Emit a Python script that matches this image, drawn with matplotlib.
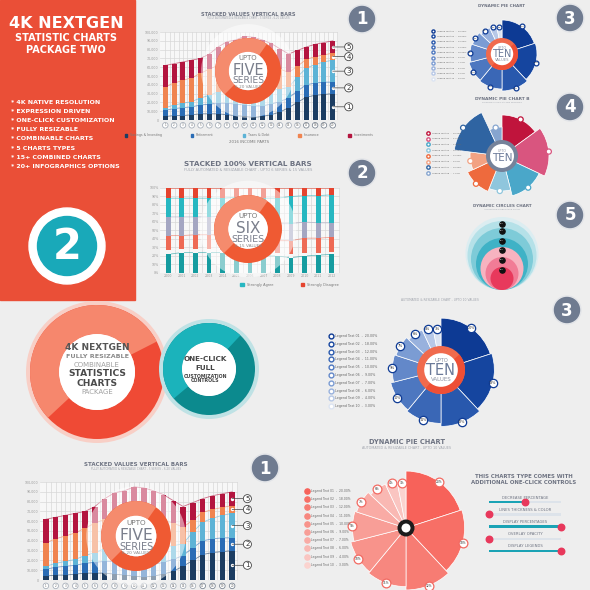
import matplotlib.pyplot as plt
import numpy as np
from matplotlib.patches import Circle, Wedge, Rectangle

# ---------------- data ----------------
income_names = ['Savings & Investing', 'Retirement', 'Taxes & Debt', 'Insurance', 'Investments']
inc_navy = [4, 5, 5, 6, 7, 7, 7, 6, 5, 4, 3, 4, 6, 9, 14, 20, 26, 28, 29, 30]
inc_blue = [7, 8, 9, 9, 10, 11, 12, 13, 13, 13, 13, 12, 12, 12, 11, 13, 14, 14, 14, 13]
inc_sky = [3, 4, 5, 6, 8, 10, 13, 15, 17, 18, 18, 17, 16, 14, 12, 16, 19, 21, 23, 25]
inc_orange = [24, 25, 26, 27, 28, 30, 30, 30, 30, 31, 31, 30, 27, 23, 17, 12, 10, 9, 8, 8]
inc_crimson = [24, 22, 21, 20, 17, 17, 21, 25, 26, 29, 29, 28, 26, 23, 21, 18, 14, 14, 14, 14]
income_colors = ['#1c3d62', '#2a6cb5', '#5db3d6', '#f08450', '#b3153f']

agree_years = [str(y) for y in range(2000, 2013)]
agree_teal = [22, 24, 24, 24, 24, 22, 20, 20, 20, 18, 20, 21, 22]
agree_pale = [5, 4, 4, 4, 3, 3, 3, 4, 4, 4, 4, 3, 3]
agree_salmon = [17, 16, 17, 17, 18, 18, 17, 16, 14, 16, 17, 17, 17]
agree_lavender = [22, 22, 21, 21, 22, 24, 24, 22, 20, 20, 19, 18, 17]
agree_cyan = [22, 22, 22, 22, 21, 22, 24, 26, 30, 32, 31, 32, 33]
agree_red = [12, 12, 12, 12, 12, 11, 12, 12, 12, 10, 9, 9, 8]
agree_colors = ['#169ca0', '#f6f6f6', '#ee6a55', '#a4a6c2', '#27b7c1', '#e5442f']

ten_values = [20, 18, 12, 11, 10, 9, 7, 6, 4, 3]
ten_depth = [34, 35, 37, 35, 34, 32, 31, 29, 28, 27]
blue_colors = ['#0d3a94', '#15459f', '#2858ad', '#3a67b6', '#4d77c0', '#6388c9',
               '#7b9cd3', '#98b1dd', '#b7c8e7', '#dce4f2']
salmon_colors = ['#f7625a', '#f76f66', '#f77c73', '#f7877f', '#f8938b', '#f89e97',
                 '#f9aba5', '#f9b8b3', '#fac5c1', '#fbd3cf']

b_values = [15, 17, 14, 10, 12, 9, 16, 7]
b_depth = [41, 47, 41, 35, 38, 32, 48, 29]
b_colors = ['#c0143c', '#d9557f', '#4aa7c9', '#8fc6dd', '#ee6a3d', '#f2a283', '#2f64a2', '#86a5cf']

circle_sizes = [36.5, 34.5, 31, 26, 21.5, 16.5, 11.5]
circle_colors = ['#dcedf1', '#b5e1e8', '#7ecbd8', '#3fb2c6', '#f7b3c0', '#f17c96', '#e8395c']

slider_names = ['DECREASE PERCENTAGE', 'LINES THICKNESS & COLOR', 'DISPLAY PERCENTAGES',
                'OVERLAY OPACITY', 'DISPLAY LEGENDS']
slider_levels = [0.5, 0, 1, 0, 1]

bullets = ['4K NATIVE RESOLUTION', 'EXPRESSION DRIVEN', 'ONE-CLICK CUSTOMIZATION',
           'FULLY RESIZABLE', 'COMBINABLE CHARTS', '5 CHARTS TYPES',
           '15+ COMBINED CHARTS', '20+ INFOGRAPHICS OPTIONS']

# ---------------- layout helpers ----------------
W = 590
GRAY = '#6e7382'
BADGE = '#6f7b90'
fig = plt.figure(figsize=(5.9, 5.9), dpi=100)
fig.patch.set_facecolor('#eeeeee')


def box(x, y, w, h, **kw):
    return fig.add_axes([x / W, 1 - (y + h) / W, w / W, h / W], **kw)


bg = box(0, 0, W, W)
bg.set_xlim(0, W); bg.set_ylim(W, 0); bg.axis('off'); bg.set_zorder(0)

ov = box(0, 0, W, W)
ov.set_xlim(0, W); ov.set_ylim(W, 0); ov.axis('off'); ov.set_zorder(5)
ov.patch.set_alpha(0)

# ---------------- red panel ----------------
bg.add_patch(Rectangle((0, 0), 135, 300, color='#ea4f37'))
bg.text(66, 24, '4K NEXTGEN', color='white', fontsize=11.5, fontweight='bold', ha='center', va='center')
bg.text(66, 38, 'STATISTIC CHARTS', color='white', fontsize=7, fontweight='bold', ha='center', va='center')
bg.text(66, 50, 'PACKAGE TWO', color='white', fontsize=7, fontweight='bold', ha='center', va='center')
for i, b in enumerate(bullets):
    bg.text(11, 102 + 9.2 * i, '* ' + b, color='white', fontsize=4.5, fontweight='bold', va='center')
bg.add_patch(Circle((67, 246), 38, color='white'))
bg.add_patch(Circle((67, 246), 29.5, color='#19a9b9'))
bg.text(67, 247, '2', color='white', fontsize=30, fontweight='bold', ha='center', va='center')


# ---------------- stacked bar charts ----------------
def grid_style(ax, n):
    ax.set_facecolor('#f7f7f7')
    ax.set_xlim(-0.6, n - 0.4)
    ax.set_ylim(0, 100)
    ax.set_xticks(np.arange(n))
    ax.set_xticks(np.arange(n) + 0.5, minor=True)
    ax.set_yticks(np.arange(0, 101, 10))
    ax.grid(True, which='both', color='#d8d8d8', lw=0.5)
    ax.set_axisbelow(True)
    ax.tick_params(which='both', length=0, labelsize=2.3, colors='#9a9a9a', pad=1)
    for s in ax.spines.values():
        s.set_visible(False)


def stacked(ax, series, colors, width, lines=True):
    x = np.arange(len(series[0]))
    bottom = np.zeros(len(x))
    for vals, c in zip(series, colors):
        ax.bar(x, vals, width, bottom=bottom, color=c, zorder=2)
        bottom = bottom + np.array(vals)
        if lines:
            ax.plot(x, bottom, color=c, lw=0.6, alpha=0.6, zorder=1)
    return x


def income_chart(x0, y0, w, h, label_dx):
    ax = box(x0, y0, w, h)
    series = [inc_navy, inc_blue, inc_sky, inc_orange, inc_crimson]
    grid_style(ax, len(inc_navy))
    ax.set_yticklabels(['{:,}'.format(v * 1000) for v in range(0, 101, 10)])
    ax.set_xticklabels([])
    x = stacked(ax, series, income_colors, 0.55)
    n = len(x)
    ax.scatter(x, np.full(n, -6), s=16, facecolor='white',
               edgecolor=['#a8b0ba'] * (n - 4) + ['#7d8794'] * 4, lw=0.6, clip_on=False, zorder=3)
    for i in x:
        ax.text(i, -6, str(i + 1), fontsize=2, ha='center', va='center', color='#666', clip_on=False)
    bottom = 0
    for k, vals in enumerate(series):
        mid = bottom + vals[-1] / 2
        bottom += vals[-1]
        ax.scatter([n - 1], [mid], s=2, color='white', zorder=3)
        ax.annotate(str(k + 1), xy=(n - 1, mid), xytext=(label_dx, 0), textcoords='offset points',
                    fontsize=5, ha='center', va='center', color='#333',
                    bbox=dict(boxstyle='circle,pad=0.15', fc='white', ec='#444', lw=0.6),
                    arrowprops=dict(arrowstyle='-', color='#444', lw=0.5, shrinkA=0, shrinkB=0),
                    annotation_clip=False)
    return ax


ax1 = income_chart(160, 32, 178, 88, 11.5)
ax1.legend([plt.Rectangle((0, 0), 1, 1, color=c) for c in income_colors], income_names,
           loc='upper center', bbox_to_anchor=(0.5, -0.12), ncol=5, fontsize=2.3, frameon=False,
           handlelength=0.9, handleheight=0.9, columnspacing=9, labelcolor='#777')
ov.text(249, 142, '2016 INCOME PARTS', fontsize=2.8, color='#777', ha='center', va='center')

ax3 = income_chart(40, 482, 198, 98, 11)

ax2 = box(160, 188, 180, 85)
grid_style(ax2, len(agree_teal))
ax2.set_yticklabels(['{}%'.format(v) for v in range(0, 101, 10)])
ax2.set_xticklabels(agree_years)
stacked(ax2, [agree_teal, agree_pale, agree_salmon, agree_lavender, agree_cyan, agree_red],
        agree_colors, 0.35)
ax2.legend([plt.Rectangle((0, 0), 1, 1, color=agree_colors[4]), plt.Rectangle((0, 0), 1, 1, color=agree_colors[5])],
           ['Strongly Agree', 'Strongly Disagree'], loc='upper center', bbox_to_anchor=(0.72, -0.08),
           ncol=2, fontsize=2.5, frameon=False, handlelength=1.0, handleheight=1.0, columnspacing=8,
           labelcolor='#777')


# ---------------- titles & badges ----------------
def title(x, y, t, fs, sub=None):
    ov.text(x, y, t, fontsize=fs, fontweight='bold', color=GRAY, ha='center', va='center')
    if sub:
        ov.text(x, y + fs * 1.15, sub, fontsize=fs * 0.5, color='#a0a4ad', ha='center', va='center')


def badge(x, y, t):
    ov.add_patch(Circle((x, y), 14, color='#e2e4e8'))
    ov.add_patch(Circle((x, y), 12.5, color=BADGE))
    ov.text(x, y + 0.5, t, fontsize=12, fontweight='bold', color='white', ha='center', va='center')


title(248, 14, 'STACKED VALUES VERTICAL BARS', 3.6, 'FULLY AUTOMATED & RESIZABLE CHART - 5 SERIES - 6-20 VALUES')
title(248, 164, 'STACKED 100% VERTICAL BARS', 5.2, 'FULLY AUTOMATED & RESIZABLE CHART - UPTO 6 SERIES & 15 VALUES')
title(502, 6, 'DYNAMIC PIE CHART', 3.0)
title(502, 99, 'DYNAMIC PIE CHART B', 3.2, 'SHIFTING SLICES VALUES SETTINGS')
title(502, 206, 'DYNAMIC CIRCLES CHART', 3.0, 'AUTOMATED & RESIZABLE CHART')
ov.text(440, 300, 'AUTOMATED & RESIZABLE CHART - UPTO 10 VALUES', fontsize=2.2, color='#a0a4ad', ha='center', va='center')
title(136, 464, 'STACKED VALUES VERTICAL BARS', 4.0, 'FULLY AUTOMATED & RESIZABLE CHART - 5 SERIES - 6-20 VALUES')
title(407, 442, 'DYNAMIC PIE CHART', 4.8, 'AUTOMATED & RESIZABLE CHART - UPTO 10 VALUES')

badge(362, 19, '1')
badge(362, 173, '2')
badge(570, 18, '3')
badge(570, 107, '4')
badge(570, 215, '5')
badge(567, 310, '3')
badge(265, 468, '1')


# ---------------- donut overlays ----------------
def ring(cx, cy, r, w, light, dark, a_light=(-225, -55), halo=None, halo_alpha=1.0):
    if halo:
        ov.add_patch(Circle((cx, cy), halo[0], color=halo[1], alpha=halo_alpha, lw=0))
    ov.add_patch(Wedge((cx, cy), r, -360, 0, width=w, color=dark, lw=0))
    ov.add_patch(Wedge((cx, cy), r, a_light[0], a_light[1], width=w, color=light, lw=0))
    ov.add_patch(Circle((cx, cy), r - w, color='white', lw=0))


def series_badge(cx, cy, r, big, small):
    ring(cx, cy, r, r * 0.42, '#f58b6d', '#ef5a33', halo=(r * 1.42, 'white'), halo_alpha=0.5)
    ov.text(cx, cy - r * 0.38, 'UPTO', fontsize=r * 0.15, color='#777', ha='center', va='center')
    ov.text(cx, cy - r * 0.02, big, fontsize=r * 0.32, color='#7a7f8c', ha='center', va='center')
    ov.text(cx, cy + r * 0.3, 'SERIES', fontsize=r * 0.2, color='#7a7f8c', ha='center', va='center')
    ov.text(cx, cy + r * 0.5, small, fontsize=r * 0.09, color='#888', ha='center', va='center')


series_badge(248, 71, 33, 'FIVE', '6-20 VALUES')
series_badge(248, 229, 34, 'SIX', '6-15 VALUES')
series_badge(136, 536, 35, 'FIVE', '6-20 VALUES')

# big feature donuts
ring(97, 372, 67, 29, '#f6876d', '#ef4a35', a_light=(-223, -27), halo=(71, '#f8cfc6'))
ov.text(97, 348, '4K NEXTGEN', fontsize=6.5, color='#555', ha='center', va='center', fontweight='bold')
ov.text(97, 357, 'FULLY RESIZABLE', fontsize=4.6, color='#8a8a8a', ha='center', va='center', fontweight='bold')
ov.text(97, 365, 'COMBINABLE', fontsize=5.0, color='#a0a0a0', ha='center', va='center')
ov.text(97, 373, 'STATISTICS', fontsize=6.6, color='#4a4a4a', ha='center', va='center', fontweight='bold')
ov.text(97, 383, 'CHARTS', fontsize=6.6, color='#4a4a4a', ha='center', va='center', fontweight='bold')
ov.text(97, 392, 'PACKAGE', fontsize=5.0, color='#a0a0a0', ha='center', va='center')

ring(209, 369, 46, 19, '#1bb3bb', '#0c8a8e', a_light=(-220, -47), halo=(50, '#bfe2e5'))
ov.text(205, 359, 'ONE-CLICK', fontsize=5.2, color='#444', ha='center', va='center', fontweight='bold')
ov.text(205, 368, 'FULL', fontsize=5.2, color='#444', ha='center', va='center', fontweight='bold')
ov.text(205, 376, 'CUSTOMIZATION', fontsize=3.4, color='#444', ha='center', va='center', fontweight='bold')
ov.text(205, 381, 'CONTROLS', fontsize=3.4, color='#444', ha='center', va='center', fontweight='bold')


# ---------------- rose pies ----------------
def rose(cx, cy, R, rmax, values, depth, colors, label_ec, label_fs, label_s, pct=True):
    ax = box(cx - R, cy - R, 2 * R, 2 * R, projection='polar')
    ax.set_theta_zero_location('N')
    ax.set_theta_direction(-1)
    ax.set_ylim(0, rmax)
    ax.set_axis_off()
    v = np.array(values, dtype=float)
    widths = 2 * np.pi * v / v.sum()
    theta = np.cumsum(widths) - widths / 2
    ax.bar(theta, depth, width=widths, color=colors, edgecolor='white', lw=0.5, align='center')
    ax.scatter(theta, depth, s=label_s, facecolor='white', edgecolor=label_ec, lw=0.9, zorder=3, clip_on=False)
    for t, d, val in zip(theta, depth, values):
        ax.text(t, d, '{}%'.format(val) if pct else '', fontsize=label_fs, ha='center', va='center',
                color='#333', zorder=4, clip_on=False)
    return ax


def ten_center(cx, cy, r, fs):
    ov.add_patch(Circle((cx, cy), r, color='#f06a4d', lw=0))
    ov.add_patch(Wedge((cx, cy), r, -40, 130, width=r * 0.3, color='#ee4f35', lw=0))
    ov.add_patch(Circle((cx, cy), r * 0.7, color='white', lw=0))
    ov.text(cx, cy - r * 0.38, 'UPTO', fontsize=fs * 0.35, color='#8a90a0', ha='center', va='center')
    ov.text(cx, cy + r * 0.02, 'TEN', fontsize=fs, color='#6b7a99', ha='center', va='center')
    ov.text(cx, cy + r * 0.4, 'VALUES', fontsize=fs * 0.38, color='#8a90a0', ha='center', va='center')


def legend_list(x, y0, dy, colors, values, fs, s, filled=False, fmt='Legend Text {:02d}  -  {:.2f}%'):
    for i, (c, v) in enumerate(zip(colors, values)):
        y = y0 + dy * i
        ov.scatter([x], [y], s=s, facecolor=c if filled else 'white', edgecolor=c, lw=1.0)
        ov.text(x + 4, y, fmt.format(i + 1, v), fontsize=fs, color='#666', va='center')


# small pie 3 (top right)
rose(502, 54, 40, 40, ten_values, ten_depth, blue_colors, blue_colors[0], 1.6, 12)
ten_center(502, 54, 16, 7)
legend_list(433, 31, 5.3, blue_colors, ten_values, 1.6, 5)

# big pie 3 (middle right)
rose(441, 370, 61, 40, ten_values, ten_depth, blue_colors, blue_colors[0], 2.4, 36)
ten_center(441, 370, 24, 10.5)
legend_list(331, 336, 7.8, blue_colors, ten_values, 2.3, 12)

# pie B
rose(502, 156, 50, 50, b_values, b_depth, b_colors, b_colors, 1.5, 14, pct=False)
ov.add_patch(Circle((502, 156), 16, color='#75829a', lw=0))
ov.add_patch(Circle((502, 156), 12, color='white', lw=0))
ov.text(502, 151, 'UPTO', fontsize=2.3, color='#8a90a0', ha='center', va='center')
ov.text(502, 158, 'TEN', fontsize=7.5, color='#6b7a99', ha='center', va='center')
legend_list(428, 133, 5.7, b_colors, b_values, 1.6, 6)

# salmon pie (bottom right)
rose(406, 528, 67, 40, ten_values, ten_depth, salmon_colors, '#f26a62', 2.2, 40)
ov.add_patch(Circle((406, 528), 8.5, color='#1c1c1c', lw=0))
ov.add_patch(Circle((406, 528), 4.5, color='white', lw=0))
legend_list(307, 491, 8.2, salmon_colors, ten_values, 2.2, 14, filled=True)

# ---------------- circles chart ----------------
for k, (r, c) in enumerate(zip(circle_sizes, circle_colors)):
    ov.add_patch(Circle((502, 290 - r), r, color=c, lw=0))
for r in circle_sizes[1:]:
    ov.scatter([502], [290 - 2 * r + 2.5], s=14, color='#111', zorder=6)
    ov.text(502, 290 - 2 * r + 2.5, '000', fontsize=1.4, color='white', ha='center', va='center', zorder=7)

# ---------------- controls panel ----------------
ov.text(524, 476, 'THIS CHARTS TYPE COMES WITH', fontsize=3.9, fontweight='bold', color=GRAY, ha='center', va='center')
ov.text(524, 482, 'ADDITIONAL ONE-CLICK CONTROLS', fontsize=3.9, fontweight='bold', color=GRAY, ha='center', va='center')
sl = box(489, 493, 72, 66)
sl.set_xlim(0, 1)
sl.set_ylim(len(slider_names) - 0.35, -0.75)
sl.axis('off')
ypos = np.arange(len(slider_names))
sl.barh(ypos, 1, height=0.2, color='#dde3ea')
sl.barh(ypos, slider_levels, height=0.2, color='#1ba3b5')
sl.scatter(slider_levels, ypos, s=22, color='#e8385b', zorder=3, clip_on=False)
for y, name in zip(ypos, slider_names):
    sl.text(0.5, y - 0.38, name, fontsize=2.7, color=GRAY, ha='center', va='center')

fig.savefig('out.png', dpi=100, facecolor=fig.get_facecolor())
